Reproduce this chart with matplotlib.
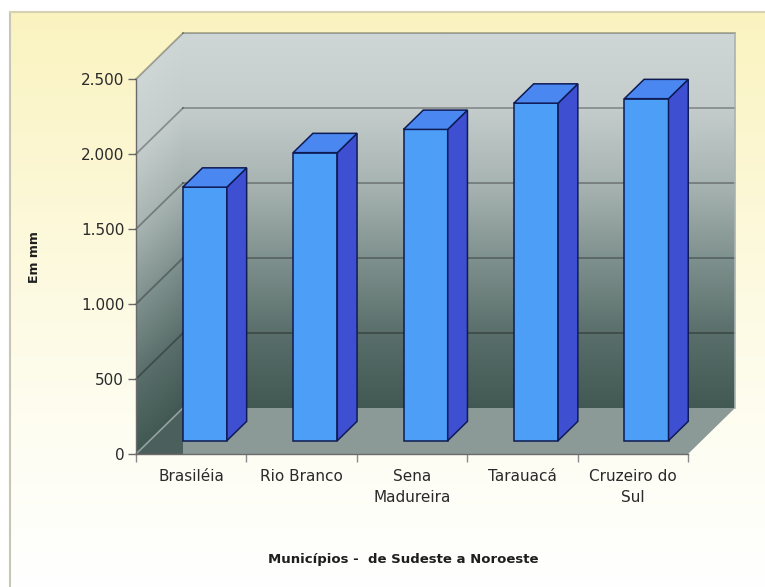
import numpy as np
import matplotlib.pyplot as plt
from matplotlib.patches import Polygon
from matplotlib.transforms import Affine2D
from matplotlib.colors import LinearSegmentedColormap

plt.rcParams["font.family"] = ["DejaVu Sans"]

# data: precipitação média anual (mm)
municipios = ["Brasiléia", "Rio Branco", "Sena\nMadureira", "Tarauacá", "Cruzeiro do\nSul"]
precip_mm = [1690, 1920, 2075, 2250, 2280]
y_ticks = [0, 500, 1000, 1500, 2000, 2500]
y_labels = ["0", "500", "1.000", "1.500", "2.000", "2.500"]

W, H = 765, 587
fig = plt.figure(figsize=(W / 100, H / 100), dpi=100)
fig.patch.set_facecolor("white")

# chart area background (pale yellow fading to white)
bg = fig.add_axes([0, 0, 1, 1], zorder=-10)
bg.set_axis_off()
bg_cmap = LinearSegmentedColormap.from_list(
    "bg", [(0, "#faf3c0"), (0.35, "#fcf8d8"), (0.7, "#fefdf0"), (1, "#ffffff")])
bg.imshow(np.linspace(0, 1, 256)[:, None], cmap=bg_cmap, aspect="auto",
          extent=(10, W, 0, H - 12), interpolation="bilinear")
bg.plot([10, 10], [0, H - 12], color="#c8c6b4", lw=1.5)
bg.plot([10, W], [H - 12, H - 12], color="#d6d2b0", lw=1.5)
bg.set_xlim(0, W)
bg.set_ylim(0, H)

ax = fig.add_axes([136 / W, (H - 454) / H, 552 / W, 375 / H])
ax.patch.set_facecolor("none")

n = len(municipios)
ymax = 2500
# oblique depth offset (in data units) and bar placement in depth
DX = 47 / (552 / n)
DY = 46 / (375 / ymax)
D0, D1 = 0.29, 0.71
BW = 0.40


def proj(x, v, d):
    return (x + d * DX, v + d * DY)


wall_cmap = LinearSegmentedColormap.from_list(
    "wall", [(0, "#425853"), (0.2, "#5a6f6b"), (0.4, "#7f918e"),
             (0.6, "#a8b4b2"), (0.8, "#c4cdcc"), (1, "#ced6d6")])
grad = np.linspace(0, 1, 256)[:, None]

# back wall
ax.imshow(grad, cmap=wall_cmap, origin="lower", extent=(0, n, 0, ymax),
          aspect="auto", interpolation="bilinear", clip_on=False, zorder=0,
          transform=Affine2D().translate(DX, DY) + ax.transData)
# left wall (sheared)
shear = Affine2D(np.array([[DX, 0, 0], [DY, 1, 0], [0, 0, 1]]))
ax.imshow(grad, cmap=wall_cmap, origin="lower", extent=(0, 1, 0, ymax),
          aspect="auto", interpolation="bilinear", clip_on=False, zorder=0,
          transform=shear + ax.transData)

# floor
floor = [proj(0, 0, 0), proj(n, 0, 0), proj(n, 0, 1), proj(0, 0, 1)]
ax.add_patch(Polygon(floor, closed=True, facecolor="#8b9a97", edgecolor="none",
                     clip_on=False, zorder=1))
ax.add_patch(Polygon([proj(0, 0, 0), proj(DX, 0, 0), proj(0, 0, 1)], closed=True,
                     facecolor="#4b605c", edgecolor="none", clip_on=False, zorder=1))

# gridlines on walls
for v in y_ticks:
    if v == 0:
        xs, ys = zip(proj(0, v, 0), proj(0, v, 1))
        ax.plot(xs, ys, color="#93a29f", lw=1.2, clip_on=False, zorder=2)
        continue
    xs, ys = zip(proj(0, v, 1), proj(n, v, 1))
    ax.plot(xs, ys, color="black", alpha=0.3, lw=1.3, clip_on=False, zorder=2)
    xs, ys = zip(proj(0, v, 0), proj(0, v, 1))
    ax.plot(xs, ys, color="black", alpha=0.3, lw=1.3, clip_on=False, zorder=2)
xs, ys = zip(proj(n, 0, 1), proj(n, ymax, 1))
ax.plot(xs, ys, color="#a9b3b0", lw=1.2, clip_on=False, zorder=2)

# bars
for i, v in enumerate(precip_mm):
    xl, xr = i + 0.5 - BW / 2, i + 0.5 + BW / 2
    front = [proj(xl, 0, D0), proj(xr, 0, D0), proj(xr, v, D0), proj(xl, v, D0)]
    side = [proj(xr, 0, D0), proj(xr, 0, D1), proj(xr, v, D1), proj(xr, v, D0)]
    top = [proj(xl, v, D0), proj(xr, v, D0), proj(xr, v, D1), proj(xl, v, D1)]
    for poly, col in [(front, "#4d9ef7"), (side, "#3f4fd2"), (top, "#4b87f1")]:
        ax.add_patch(Polygon(poly, closed=True, facecolor=col, edgecolor="#0e1b55",
                             lw=1.1, joinstyle="miter", clip_on=False, zorder=3))

ax.set_xlim(0, n)
ax.set_ylim(0, ymax)
for s in ["top", "right"]:
    ax.spines[s].set_visible(False)
for s in ["left", "bottom"]:
    ax.spines[s].set_color("#6a6a6a")
    ax.spines[s].set_linewidth(1.0)
    ax.spines[s].set_zorder(4)

ax.set_yticks(y_ticks)
ax.set_yticklabels(y_labels)
ax.set_xticks(np.arange(n + 1))
ax.set_xticklabels([])
ax.set_xticks(np.arange(n) + 0.5, minor=True)
ax.set_xticklabels(municipios, minor=True, linespacing=1.45)
ax.tick_params(axis="y", direction="out", length=5.5, width=1, color="#6a6a6a",
               labelsize=11, labelcolor="#2a2a2a", pad=3)
ax.tick_params(axis="x", which="major", direction="out", length=5.5, width=1,
               color="#8a8a8a")
ax.tick_params(axis="x", which="minor", length=0, labelsize=11,
               labelcolor="#2a2a2a", pad=11)

fig.text(35 / W, 1 - 257 / H, "Em mm", rotation=90, fontsize=9,
         fontweight="bold", ha="center", va="center", color="#1e1e1e")
fig.text(403 / W, 1 - 560 / H, "Municípios -  de Sudeste a Noroeste", fontsize=9.5,
         fontweight="bold", ha="center", va="center", color="#1e1e1e")

fig.savefig("out.png", dpi=100)
